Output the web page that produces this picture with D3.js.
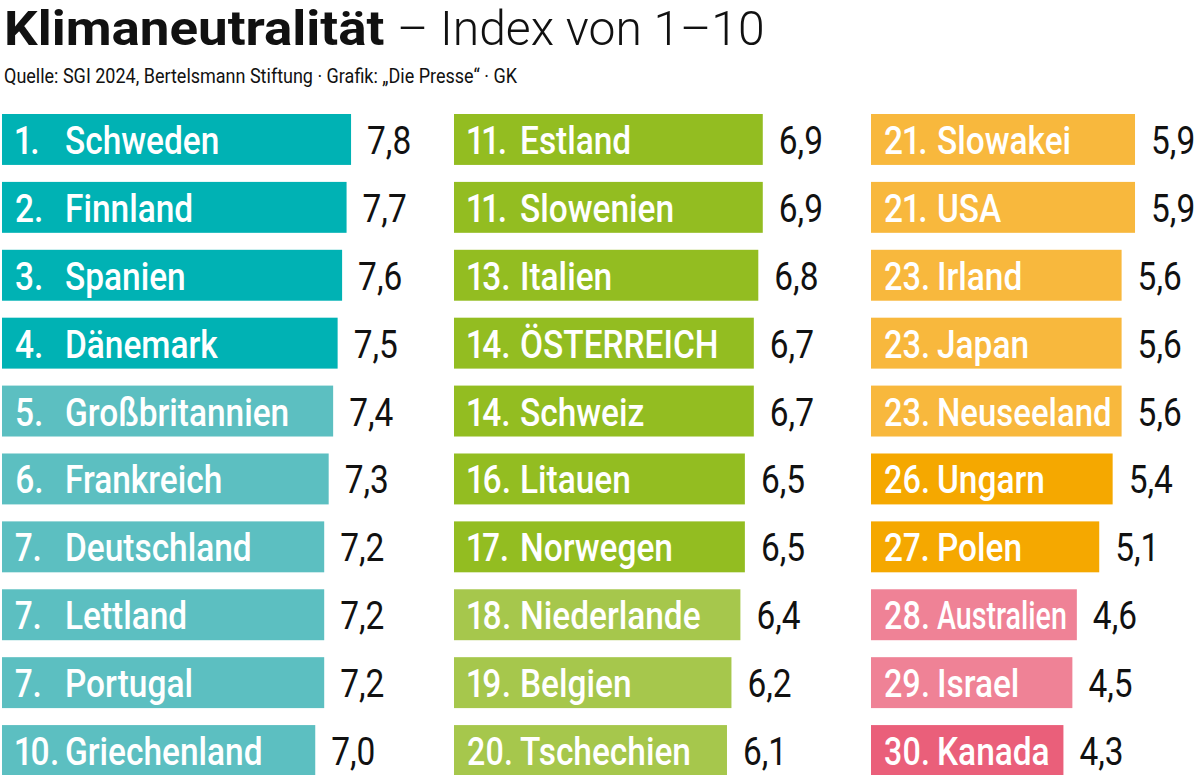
<!DOCTYPE html>
<html>
<head>
<meta charset="utf-8">
<script src="https://cdn.jsdelivr.net/npm/d3@7"></script>
<style>
  body { margin: 0; background: #fff; }
  svg { display: block; }
  text { font-family: Roboto, "Noto Sans", sans-serif; }
  .rank { font-variant-numeric: proportional-nums; font-feature-settings: "pnum" 1; }
</style>
</head>
<body>
<div id="chart"></div>
<script>
// data
let ranks = [1, 2, 3, 4, 5, 6, 7, 7, 7, 10,
             11, 11, 13, 14, 14, 16, 17, 18, 19, 20,
             21, 21, 23, 23, 23, 26, 27, 28, 29, 30];
let countries = ['Schweden', 'Finnland', 'Spanien', 'Dänemark', 'Großbritannien',
                 'Frankreich', 'Deutschland', 'Lettland', 'Portugal', 'Griechenland',
                 'Estland', 'Slowenien', 'Italien', 'ÖSTERREICH', 'Schweiz',
                 'Litauen', 'Norwegen', 'Niederlande', 'Belgien', 'Tschechien',
                 'Slowakei', 'USA', 'Irland', 'Japan', 'Neuseeland',
                 'Ungarn', 'Polen', 'Australien', 'Israel', 'Kanada'];
let values = [7.8, 7.7, 7.6, 7.5, 7.4, 7.3, 7.2, 7.2, 7.2, 7.0,
              6.9, 6.9, 6.8, 6.7, 6.7, 6.5, 6.5, 6.4, 6.2, 6.1,
              5.9, 5.9, 5.6, 5.6, 5.6, 5.4, 5.1, 4.6, 4.5, 4.3];
// colour tier of each bar
let tiers = ['a', 'a', 'a', 'a', 'b', 'b', 'b', 'b', 'b', 'b',
             'c', 'c', 'c', 'c', 'c', 'c', 'c', 'd', 'd', 'd',
             'e', 'e', 'e', 'e', 'e', 'f', 'f', 'g', 'g', 'h'];
let columns = [0, 1, 2];

let width = 1200, height = 775;
let sx = 0.88;   // squeeze the text a bit, like the condensed original

let data = ranks.map(function(r, i) {
  return {rank: r, country: countries[i], value: values[i], tier: tiers[i],
          col: Math.floor(i / 10), row: i % 10};
});

let svg = d3.select('#chart')
  .append('svg')
    .attr('width', width)
    .attr('height', height)
;

let x = d3.scaleLinear().domain([0, 10]).range([0, 447.5]);
let y = d3.scaleBand().domain(d3.range(10)).range([114, 776]).paddingInner(0.25);
let colX = d3.scaleOrdinal().domain(columns).range([2, 454, 871]);
let color = d3.scaleOrdinal()
  .domain(['a', 'b', 'c', 'd', 'e', 'f', 'g', 'h'])
  .range(['#00b2b4', '#5cbfc1', '#93bd21', '#a6c74c', '#f8b83d', '#f5a800', '#ef8296', '#ea5f7a']);

// title
svg.append('text')
    .attr('transform', 'translate(4,45) scale(1.08,1)')
    .attr('font-size', 49)
    .attr('font-weight', 700)
    .attr('fill', '#111')
    .text('Klimaneutralität');
svg.append('text')
    .attr('transform', 'translate(397,45) scale(0.98,1)')
    .attr('font-size', 49)
    .attr('font-weight', 300)
    .attr('fill', '#111')
    .text('– Index von 1–10');

svg.append('text')
    .attr('transform', 'translate(4,83) scale(0.9,1)')
    .attr('font-size', 20)
    .attr('fill', '#111')
    .text('Quelle: SGI 2024, Bertelsmann Stiftung · Grafik: „Die Presse“ · GK');

let rows = svg.selectAll('.row').data(data)
  .enter()
    .append('g')
    .attr('class', 'row')
    .attr('transform', function(d) {
      return 'translate(' + colX(d.col) + ',' + y(d.row) + ')';
    })
;

rows.append('rect')
    .attr('width', function(d) { return x(d.value); })
    .attr('height', y.bandwidth())
    .attr('fill', function(d) { return color(d.tier); })
;

rows.append('text')
    .attr('class', 'rank')
    .attr('font-size', 38)
    .attr('font-weight', 500)
    .attr('fill', '#fff')
    .text(function(d) { return d.rank + '.'; })
    .attr('transform', function(d) {
      // rank numbers must leave a gap before the name
      let w = this.getComputedTextLength();
      let s = Math.min(sx, 46 / w);
      return 'translate(13,40) scale(' + s + ',1)';
    })
;

function nameX(d) { return d.col == 0 ? 63 : 66; }

rows.append('text')
    .attr('class', 'name')
    .attr('font-size', 38)
    .attr('font-weight', 500)
    .attr('fill', '#fff')
    .text(function(d) { return d.country; })
    .attr('transform', function(d) {
      // keep the name inside its bar
      let w = this.getComputedTextLength();
      let room = x(d.value) - nameX(d) - 10;
      let s = Math.min(sx, room / w);
      return 'translate(' + nameX(d) + ',40) scale(' + s + ',1)';
    })
;

rows.append('text')
    .attr('transform', function(d) {
      return 'translate(' + (x(d.value) + 16) + ',40) scale(' + sx + ',1)';
    })
    .attr('font-size', 38)
    .attr('font-weight', 400)
    .attr('fill', '#111')
    .text(function(d) { return d3.format('.1f')(d.value).replace('.', ','); })
;
</script>
</body>
</html>
